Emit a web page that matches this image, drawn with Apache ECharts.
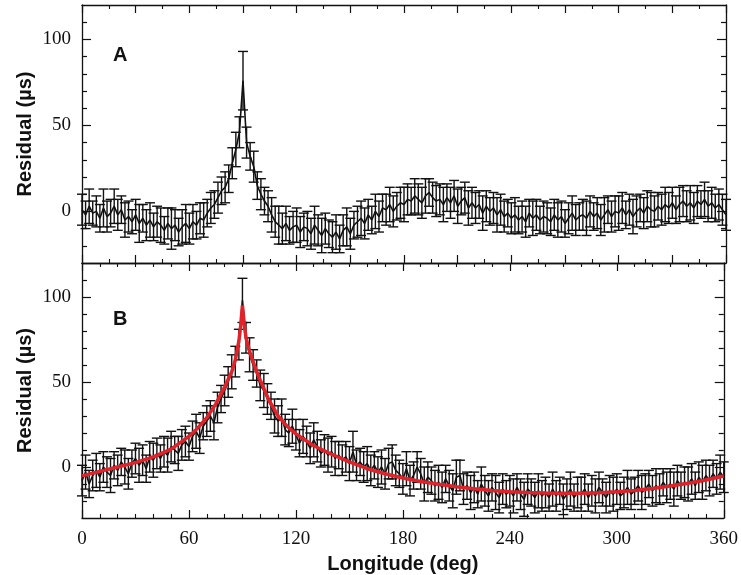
<!DOCTYPE html>
<html>
<head>
<meta charset="utf-8">
<script src="https://cdn.jsdelivr.net/npm/echarts@6/dist/echarts.min.js"></script>
<style>html,body{margin:0;padding:0;background:#fff}#c{width:741px;height:575px}</style>
</head>
<body>
<div id="c"></div>
<script>
// Longitude sampling step (deg) of the residual data
const LON_STEP = 2;
// Panel A residuals (µs), one per 2 deg from 0 to 360
const residA = [
 1,-2,3,-1,0,-4,2,-3,-1,3,
 -2,1,-5,-3,-6,-2,-7,-4,-8,-5,
 -9,-6,-8,-11,-7,-10,-8,-12,-9,-7,
 -10,-6,-8,-4,-5,-1,2,4,8,12,
 14,19,28,36,46,76,40,32,26,15,
 10,6,3,-2,-6,-8,-10,-7,-11,-9,
 -8,-12,-9,-10,-13,-8,-11,-14,-10,-13,
 -15,-12,-16,-11,-9,-13,-8,-6,-4,-7,
 -2,-5,0,-3,2,1,4,0,3,5,
 4,7,6,9,7,5,9,11,8,6,
 7,4,8,5,9,3,6,8,2,5,
 2,4,-1,3,0,2,-2,1,-3,-1,
 -4,-2,-5,-3,-6,-1,-4,-2,-5,-3,
 -4,-6,-2,-5,-3,-7,-4,-1,-5,-3,
 -2,-4,0,-3,-1,-5,-2,1,-3,0,
 -1,2,-2,1,-3,0,2,-1,3,1,
 0,3,1,4,2,5,1,4,6,3,
 5,2,6,4,7,3,5,2,4,1,
 -2
];
const errA = [
 9,8,10,7,9,8,11,9,8,10,
 9,8,10,9,7,9,11,8,9,10,
 8,9,10,8,9,12,9,8,10,11,
 9,10,8,9,10,8,9,8,9,8,
 9,8,9,10,9,17,9,8,9,8,
 9,8,9,10,9,11,9,10,8,9,
 10,9,8,10,9,11,9,10,9,8,
 9,10,8,9,11,9,8,9,10,9,
 9,8,10,9,8,9,10,9,8,9,
 10,9,8,10,9,9,10,8,9,9,
 9,10,8,9,9,10,8,9,10,9,
 9,8,10,9,8,9,10,9,9,8,
 9,10,8,9,9,8,10,9,8,9,
 9,8,9,10,9,8,9,10,9,8,
 9,10,9,8,9,9,10,8,9,9,
 10,9,8,9,10,9,8,9,9,10,
 9,8,9,10,9,9,8,10,9,9,
 10,9,9,8,10,9,9,8,9,9,
 9
];
// Panel B residuals (µs)
const residB = [
 -8,-3,-10,-5,-2,-6,0,-3,-5,1,
 -2,3,0,-4,2,5,1,4,-1,6,
 4,8,5,9,7,12,10,8,13,15,
 12,18,21,17,24,27,30,26,35,40,
 45,50,56,62,72,98,76,66,60,55,
 48,45,40,36,30,27,29,22,20,24,
 19,14,18,15,11,16,12,8,10,7,
 9,5,7,4,6,2,9,1,3,0,
 2,-2,1,-3,0,-4,2,3,-2,-4,
 -7,-1,-8,-5,0,-4,-10,-6,-8,-11,
 -9,-12,-7,-11,-14,-6,-5,-13,-11,-15,
 -12,-16,-10,-14,-17,-12,-15,-18,-13,-16,
 -14,-17,-12,-16,-19,-13,-15,-18,-14,-17,
 -15,-18,-13,-17,-14,-19,-16,-13,-18,-15,
 -16,-13,-18,-14,-17,-12,-15,-18,-14,-16,
 -13,-17,-15,-12,-16,-14,-11,-15,-13,-10,
 -14,-11,-13,-9,-12,-10,-13,-8,-11,-9,
 -10,-7,-11,-6,-9,-5,-8,-4,-7,-3,
 -6
];
const errB = [
 9,10,8,9,10,8,9,9,10,8,
 9,8,10,9,8,9,10,9,8,9,
 10,9,8,9,10,9,8,10,9,9,
 8,9,10,9,8,9,9,10,9,8,
 9,9,10,9,9,13,9,10,9,8,
 9,10,9,8,10,9,11,9,8,10,
 9,8,10,9,9,10,9,8,9,10,
 9,10,8,9,9,10,12,9,8,9,
 10,9,8,9,10,9,9,10,9,8,
 9,10,9,8,9,9,10,9,8,9,
 10,9,8,9,10,10,9,9,8,10,
 9,8,10,9,9,8,10,9,9,8,
 9,10,8,9,10,9,8,9,10,9,
 9,8,10,9,8,9,9,10,8,9,
 10,9,8,9,10,9,8,9,9,10,
 9,8,9,10,9,8,9,10,9,8,
 9,10,9,8,9,9,10,9,8,9,
 10,9,8,9,10,9,9,8,9,10,
 9
];
// Fitted model curve in panel B
const modelLon = [0,10,20,30,40,50,60,65,70,75,80,84,86,88,89,90,91,92,94,96,98,100,105,110,115,120,130,140,150,160,170,180,190,200,210,220,230,240,250,260,270,280,290,300,310,320,330,340,350,360];
const modelRes = [-5.2,-2.6,0,2.6,6,10.5,18,23,29,37,47,56,63,74,83,95,84,76,68,62,56,51,39,30,24,19.5,12.5,7.5,3,-1,-4,-6.5,-8.5,-10.2,-11.6,-12.8,-13.8,-14.5,-15,-15.3,-15.5,-15.4,-15.1,-14.6,-13.8,-12.6,-11.2,-9.6,-7.6,-5.3];
// Tick values
const yMajor = [0,50,100];
const yMinor = [-20,-10,10,20,30,40,60,70,80,90,110];

const lon = residA.map((_, i) => i * LON_STEP);
const dataA = lon.map((x, i) => [x, residA[i], errA[i]]);
const dataB = lon.map((x, i) => [x, residB[i], errB[i]]);
const model = modelLon.map((x, i) => [x, modelRes[i]]);

const INK = '#111';
const serif = 'Liberation Serif';
const sans = 'Liberation Sans';

function errRender(params, api) {
  const x = api.value(0), y = api.value(1), e = api.value(2);
  const t = api.coord([x, y + e]);
  const b = api.coord([x, y - e]);
  const hw = 5;
  const st = { stroke: INK, lineWidth: 1.4 };
  return { type: 'group', children: [
    { type: 'line', shape: { x1: t[0], y1: t[1], x2: b[0], y2: b[1] }, style: st },
    { type: 'line', shape: { x1: t[0] - hw, y1: t[1], x2: t[0] + hw, y2: t[1] }, style: st },
    { type: 'line', shape: { x1: b[0] - hw, y1: b[1], x2: b[0] + hw, y2: b[1] }, style: st }
  ]};
}

function xAx(grid, pos, interval, minorSplit, labels) {
  return {
    type: 'value', gridIndex: grid, position: pos, min: 0, max: 360, interval: interval,
    axisLine: { show: true, onZero: false, lineStyle: { color: INK, width: 1.3 } },
    axisTick: { show: true, inside: true, length: 8, lineStyle: { color: INK, width: 1.2 } },
    minorTick: { show: true, splitNumber: minorSplit, length: 4, lineStyle: { color: INK, width: 1.1 } },
    axisLabel: { show: labels, color: INK, fontFamily: serif, fontSize: 19, margin: 12 },
    splitLine: { show: false }, minorSplitLine: { show: false },
    name: labels ? 'Longitude (deg)' : '', nameLocation: 'middle', nameGap: 36,
    nameTextStyle: { fontFamily: sans, fontWeight: 'bold', fontSize: 20, color: INK }
  };
}
function yAx(grid, pos, ticks, len, labels, line) {
  return {
    type: 'value', gridIndex: grid, position: pos, min: -30, max: 120,
    axisLine: { show: line, onZero: false, lineStyle: { color: INK, width: 1.3 } },
    axisTick: { show: true, inside: true, length: len, customValues: ticks, lineStyle: { color: INK, width: 1.2 } },
    axisLabel: { show: labels, customValues: ticks, color: INK, fontFamily: serif, fontSize: 19, margin: 11 },
    splitLine: { show: false },
    name: labels ? 'Residual (µs)' : '', nameLocation: 'middle', nameGap: 47, nameMoveOverlap: false,
    nameTextStyle: { fontFamily: sans, fontWeight: 'bold', fontSize: 20, color: INK }
  };
}

const chart = echarts.init(document.getElementById('c'), null, { renderer: 'canvas' });
chart.setOption({
  animation: false,
  backgroundColor: '#fff',
  grid: [
    { left: 82, top: 5, width: 644, height: 258 },
    { left: 82, top: 263, width: 644, height: 257 }
  ],
  xAxis: [
    xAx(0, 'bottom', 30, 2, false),
    xAx(0, 'top', 30, 2, false),
    xAx(1, 'bottom', 60, 6, true),
    xAx(1, 'top', 60, 6, false)
  ],
  yAxis: [
    yAx(0, 'left', yMajor, 9, true, true),
    yAx(0, 'left', yMinor, 5, false, false),
    yAx(0, 'right', yMajor, 9, false, true),
    yAx(0, 'right', yMinor, 5, false, false),
    yAx(1, 'left', yMajor, 9, true, true),
    yAx(1, 'left', yMinor, 5, false, false),
    yAx(1, 'right', yMajor, 9, false, true),
    yAx(1, 'right', yMinor, 5, false, false)
  ],
  graphic: [
    { type: 'text', left: 113, top: 45, style: { text: 'A', font: 'bold 20px "Liberation Sans"', fill: INK } },
    { type: 'text', left: 113, top: 309, style: { text: 'B', font: 'bold 20px "Liberation Sans"', fill: INK } }
  ],
  series: [
    { type: 'custom', xAxisIndex: 0, yAxisIndex: 0, data: dataA, encode: { x: 0, y: 1 }, renderItem: errRender, silent: true },
    { type: 'line', xAxisIndex: 0, yAxisIndex: 0, data: dataA.map(d => [d[0], d[1]]), showSymbol: false, lineStyle: { color: INK, width: 1.6 }, silent: true },
    { type: 'custom', xAxisIndex: 2, yAxisIndex: 4, data: dataB, encode: { x: 0, y: 1 }, renderItem: errRender, silent: true },
    { type: 'line', xAxisIndex: 2, yAxisIndex: 4, data: dataB.map(d => [d[0], d[1]]), showSymbol: false, lineStyle: { color: INK, width: 1.6 }, silent: true },
    { type: 'line', xAxisIndex: 2, yAxisIndex: 4, data: model, showSymbol: false, lineStyle: { color: '#e0232b', width: 3.5 }, z: 5, silent: true }
  ]
});
</script>
</body>
</html>
